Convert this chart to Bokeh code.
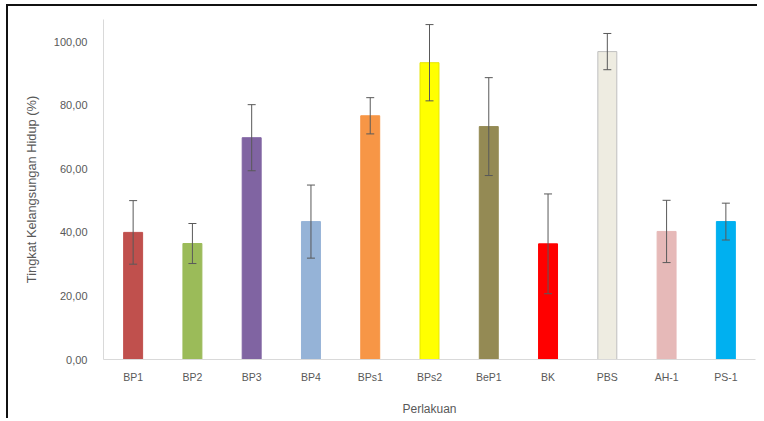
from bokeh.plotting import figure
from bokeh.models import ColumnDataSource, Whisker, FactorRange, CustomJSTickFormatter
from bokeh.embed import file_html
from bokeh.resources import INLINE

categories = ["BP1", "BP2", "BP3", "BP4", "BPs1", "BPs2", "BeP1", "BK", "PBS", "AH-1", "PS-1"]
survival = [40.0, 36.5, 69.8, 43.4, 76.7, 93.4, 73.3, 36.4, 96.9, 40.3, 43.4]
error = [10.0, 6.3, 10.4, 11.5, 5.7, 12.0, 15.4, 15.7, 5.7, 9.8, 5.8]
colors = ["#c0504d", "#9bbb59", "#8064a2", "#95b3d7", "#f79646", "#ffff00",
          "#948a54", "#ff0000", "#eeece1", "#e6b9b8", "#00b0f0"]
outlines = ["#c0504d", "#9bbb59", "#8064a2", "#95b3d7", "#f79646", "#e6e600",
            "#948a54", "#ff0000", "#bfbfbf", "#e6b9b8", "#00b0f0"]

upper = [v + e for v, e in zip(survival, error)]
lower = [v - e for v, e in zip(survival, error)]

src = ColumnDataSource(dict(cat=categories, val=survival, up=upper, lo=lower,
                            color=colors, line=outlines))

FONT = "Liberation Sans"
GRAY = "#595959"

p = figure(x_range=FactorRange(*categories, range_padding=0), y_range=(0, 107),
           frame_width=652, frame_height=340,
           min_border_left=95, min_border_top=13, min_border_right=2, min_border_bottom=55,
           output_backend="svg", toolbar_location=None,
           background_fill_color="white", border_fill_color="white")
p.styles = {"border-top": "2px solid #111111", "border-left": "2px solid #111111",
            "margin-left": "6px", "margin-top": "4px"}
p.outline_line_color = None

p.vbar(x="cat", top="val", width=0.32, source=src, fill_color="color",
       line_color="line", line_width=1)

w = Whisker(source=src, base="cat", upper="up", lower="lo",
            line_color="#595959", line_width=1, level="overlay")
w.upper_head.line_color = "#595959"
w.lower_head.line_color = "#595959"
w.upper_head.size = 8
w.lower_head.size = 8
p.add_layout(w)

p.xgrid.visible = False
p.ygrid.visible = False

p.yaxis.ticker = [0, 20, 40, 60, 80, 100]
p.yaxis.formatter = CustomJSTickFormatter(code="return tick.toFixed(2).replace('.', ',');")
p.yaxis.axis_label = "Tingkat Kelangsungan Hidup (%)"
p.xaxis.axis_label = "Perlakuan"

for ax in (p.xaxis, p.yaxis):
    ax.axis_line_color = "#d9d9d9"
    ax.axis_line_width = 1
    ax.major_tick_line_color = None
    ax.minor_tick_line_color = None
    ax.major_label_text_font = FONT
    ax.major_label_text_font_size = "10.5px"
    ax.major_label_text_color = GRAY
    ax.axis_label_text_font = FONT
    ax.axis_label_text_font_size = "12px"
    ax.axis_label_text_font_style = "normal"
    ax.axis_label_text_color = GRAY

p.yaxis.axis_label_text_font_size = "12.8px"
p.yaxis.major_label_text_font_size = "11px"
p.yaxis.major_label_standoff = 10
p.yaxis.axis_label_standoff = 12
p.xaxis.major_label_standoff = 5
p.xaxis.axis_label_standoff = 16

open("out.html", "w").write(file_html(p, INLINE))
